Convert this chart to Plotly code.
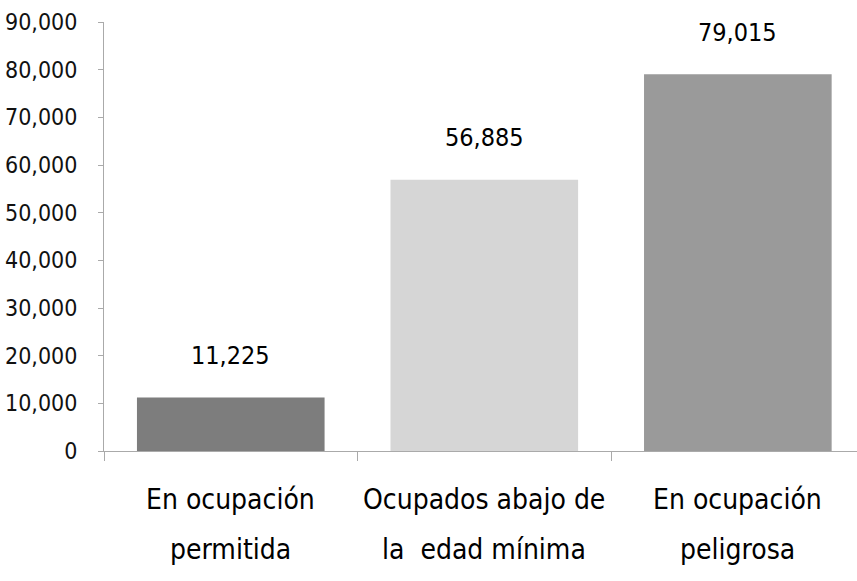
import plotly.graph_objects as go

categories = ["En ocupación permitida", "Ocupados abajo de la edad mínima", "En ocupación peligrosa"]
label_line1 = ["En ocupación", "Ocupados abajo de", "En ocupación"]
label_line2 = ["permitida", "la\u00a0 edad mínima", "peligrosa"]
values = [11225, 56885, 79015]
value_text = ["11,225", "56,885", "79,015"]
bar_colors = ["#7d7d7d", "#d6d6d6", "#9a9a9a"]
y_ticks = [0, 10000, 20000, 30000, 40000, 50000, 60000, 70000, 80000, 90000]
y_tick_text = ["0", "10,000", "20,000", "30,000", "40,000", "50,000", "60,000", "70,000", "80,000", "90,000"]

FONT = "DejaVu Sans Condensed, sans-serif"

fig = go.Figure(
    go.Bar(
        x=categories,
        y=values,
        marker=dict(color=bar_colors, line=dict(width=0)),
        width=0.74,
        hoverinfo="skip",
    )
)

annotations = []
for c, v, t in zip(categories, values, value_text):
    annotations.append(dict(x=c, y=v, xref="x", yref="y", text=t, showarrow=False,
                            yanchor="middle", yshift=42,
                            font=dict(family=FONT, size=25, color="#000000")))
for c, l1, l2 in zip(categories, label_line1, label_line2):
    annotations.append(dict(x=c, y=0, xref="x", yref="paper", text=l1, showarrow=False,
                            yanchor="middle", yshift=-48,
                            font=dict(family=FONT, size=28, color="#000000")))
    annotations.append(dict(x=c, y=0, xref="x", yref="paper", text=l2, showarrow=False,
                            yanchor="middle", yshift=-98,
                            font=dict(family=FONT, size=28, color="#000000")))

fig.update_layout(
    width=857, height=581,
    margin=dict(l=104, r=0, t=22, b=130),
    paper_bgcolor="white", plot_bgcolor="white",
    showlegend=False,
    annotations=annotations,
    xaxis=dict(
        range=[-0.5, 2.47],
        showticklabels=False,
        showgrid=False,
        showline=True, linecolor="#aaaaaa", linewidth=1,
        ticks="outside", tickson="boundaries", ticklen=9, tickcolor="#aaaaaa",
        zeroline=False,
        automargin=False,
    ),
    yaxis=dict(
        range=[0, 90000],
        tickvals=y_ticks, ticktext=y_tick_text,
        showgrid=False,
        showline=True, linecolor="#aaaaaa", linewidth=1,
        ticks="outside", ticklen=5, tickcolor="#aaaaaa",
        ticklabelstandoff=16,
        tickfont=dict(family=FONT, size=23, color="#111111"),
        zeroline=False,
        automargin=False,
    ),
)

fig.write_html("out.html", config={"displayModeBar": False, "staticPlot": True},
               post_script="document.body.style.margin='0';document.body.style.overflow='hidden';")
